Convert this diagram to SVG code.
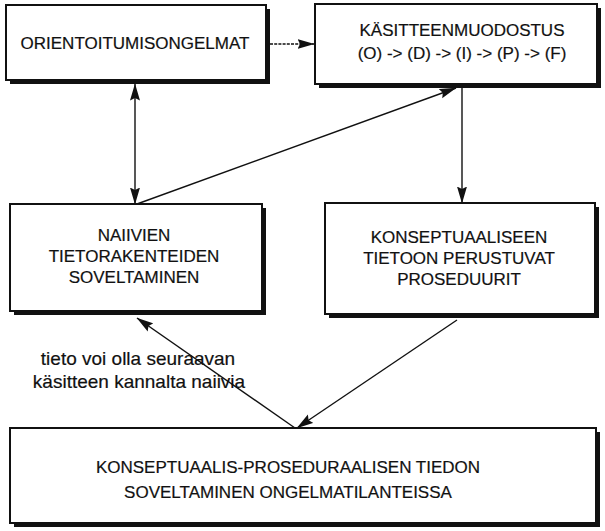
<svg xmlns="http://www.w3.org/2000/svg" width="605" height="531" viewBox="0 0 605 531">
  <style>
    .shadow { fill: #111; }
    .box { fill: #fff; stroke: #111; stroke-width: 2; }
    .t { font-family: "Liberation Sans", Arial, Helvetica, sans-serif; font-size: 17px; fill: #111; stroke: #111; stroke-width: 0.2; text-anchor: middle; }
    .lbl { font-family: "Liberation Sans", Arial, Helvetica, sans-serif; font-size: 19px; fill: #111; stroke: #111; stroke-width: 0.2; text-anchor: middle; }
    .edge { fill: none; stroke: #111; stroke-width: 1.4; }
    .dash { stroke-dasharray: 3 1.2; }
  </style>
  <defs>
    <marker id="arrow" viewBox="0 0 17 11" refX="16.5" refY="5.5" markerWidth="17" markerHeight="11" markerUnits="userSpaceOnUse" orient="auto-start-reverse">
      <path d="M0,0.5 L17,5.5 L0,10.5 L2.5,5.5 Z" fill="#111"/>
    </marker>
  </defs>

  <rect width="605" height="531" fill="#fff"/>

  <!-- connectors -->
  <g id="connectors">
    <path class="edge dash" d="M270,44 L314,44" marker-end="url(#arrow)"/>
    <path class="edge" d="M135,84 L135,204" marker-start="url(#arrow)" marker-end="url(#arrow)"/>
    <path class="edge" d="M137,204 L456,88" marker-end="url(#arrow)"/>
    <path class="edge" d="M462,88 L462,203" marker-end="url(#arrow)"/>
    <path class="edge" d="M295,428 L137,318" marker-end="url(#arrow)"/>
    <path class="edge" d="M457,320 L297,428" marker-end="url(#arrow)"/>
  </g>

  <g id="orientoitumisongelmat">
    <rect class="shadow" x="10" y="9" width="260" height="75"/>
    <rect class="box" x="6" y="5" width="260" height="75"/>
    <text class="t" x="135" y="49" font-size="17.5">ORIENTOITUMISONGELMAT</text>
  </g>

  <g id="kasitteenmuodostus">
    <rect class="shadow" x="319" y="8" width="282" height="80"/>
    <rect class="box" x="315" y="4" width="282" height="80"/>
    <text class="t" x="462" y="36" font-size="18">KÄSITTEENMUODOSTUS</text>
    <text class="t" x="462" y="59" font-size="17.5">(O) -&gt; (D) -&gt; (I) -&gt; (P) -&gt; (F)</text>
  </g>

  <g id="naiivit-tietorakenteet">
    <rect class="shadow" x="14" y="208" width="252" height="107"/>
    <rect class="box" x="10" y="204" width="252" height="107"/>
    <text class="t" x="134" y="241">NAIIVIEN</text>
    <text class="t" x="134" y="262">TIETORAKENTEIDEN</text>
    <text class="t" x="134" y="283">SOVELTAMINEN</text>
  </g>

  <g id="prosedurit">
    <rect class="shadow" x="329" y="207" width="270" height="111"/>
    <rect class="box" x="325" y="203" width="270" height="111"/>
    <text class="t" x="459" y="243">KONSEPTUAALISEEN</text>
    <text class="t" x="459" y="264">TIETOON PERUSTUVAT</text>
    <text class="t" x="459" y="285">PROSEDUURIT</text>
  </g>

  <g id="ongelmatilanteet">
    <rect class="shadow" x="14" y="432" width="586" height="95"/>
    <rect class="box" x="10" y="428" width="586" height="95"/>
    <text class="t" x="288" y="473">KONSEPTUAALIS-PROSEDURAALISEN TIEDON</text>
    <text class="t" x="288" y="498">SOVELTAMINEN ONGELMATILANTEISSA</text>
  </g>

  <g id="naiivius-huomautus">
    <text class="lbl" x="138" y="365">tieto voi olla seuraavan</text>
    <text class="lbl" x="139" y="388">käsitteen kannalta naiivia</text>
  </g>
</svg>
